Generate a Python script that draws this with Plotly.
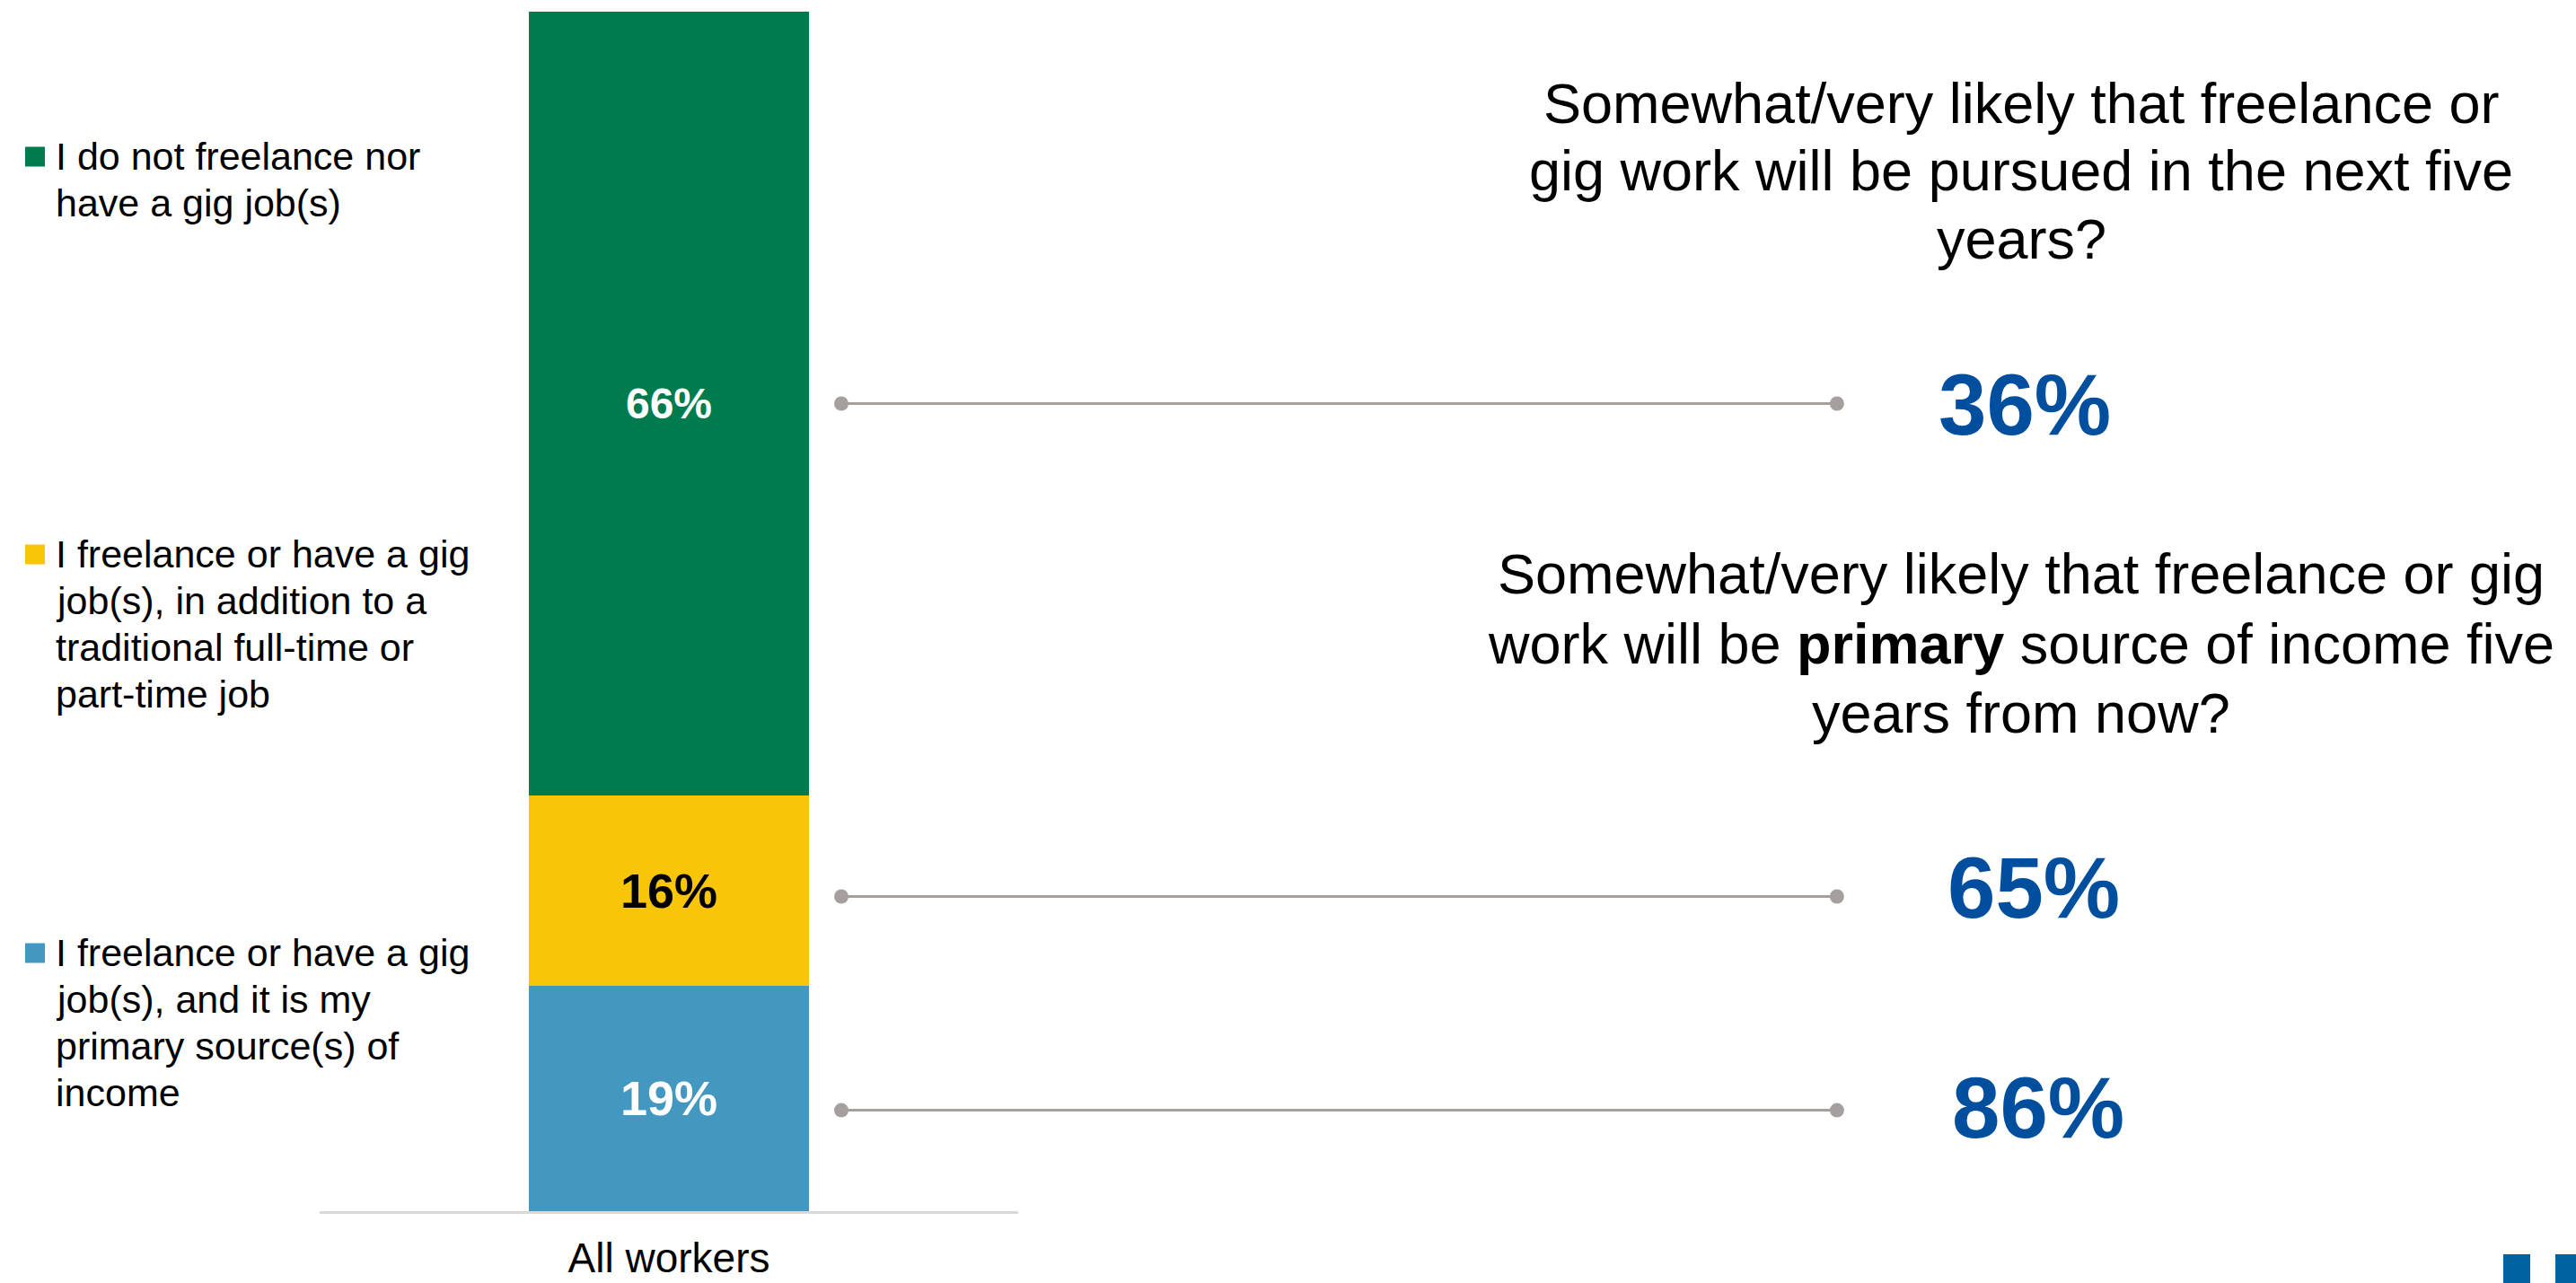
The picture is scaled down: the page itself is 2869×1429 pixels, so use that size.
import plotly.graph_objects as go

W, H = 2869, 1429

# ---- data -------------------------------------------------------------
category = ["All workers"]

# stacked from the bottom up
segment_names = [
    "I freelance or have a gig job(s), and it is my primary source(s) of income",
    "I freelance or have a gig job(s), in addition to a traditional full-time or part-time job",
    "I do not freelance nor have a gig job(s)",
]
segment_values = [19, 16, 66]

# legend text, top to bottom, split as wrapped on the slide
legend_lines = [
    ["I do not freelance nor", "have a gig job(s)"],
    ["I freelance or have a gig", "job(s), in addition to a", "traditional full-time or", "part-time job"],
    ["I freelance or have a gig", "job(s), and it is my", "primary source(s) of", "income"],
]

# level on the bar scale where each callout connector meets the bar
connector_levels = [68, 26.5, 8.5]
# share likely to pursue / rely on freelance work (green, yellow, blue groups)
outlook_values = [36, 65, 86]

question_pursue = [
    "Somewhat/very likely that freelance or",
    "gig work will be pursued in the next five",
    "years?",
]
question_primary = [
    "Somewhat/very likely that freelance or gig",
    "work will be <b>primary</b> source of income five",
    "years from now?",
]

# ---- styling ------------------------------------------------------------
FONT = "Liberation Sans, Arial, sans-serif"
segment_colors = ["#4398c2", "#f8c508", "#007b4e"]
label_colors = ["#ffffff", "#000000", "#ffffff"]
label_sizes = [54, 54, 48]
legend_colors = ["#007b4e", "#f8c508", "#4398c2"]
GREY = "#a5a09d"
NUM_BLUE = "#004f9f"


def px(p):
    return p / W


def py(p):
    return 1 - p / H


fig = go.Figure()

for name, val, col, tcol, tsize in zip(segment_names, segment_values,
                                        segment_colors, label_colors, label_sizes):
    fig.add_trace(go.Bar(
        x=category, y=[val], name=name,
        marker=dict(color=col, line=dict(width=0)),
        text=[f"{val}%"], textposition="inside", insidetextanchor="middle",
        textfont=dict(family=FONT, size=tsize, color=tcol, weight="bold"),
        showlegend=False, hoverinfo="skip",
        xaxis="x", yaxis="y",
    ))

# connectors from the bar to the callout numbers
for lvl in connector_levels:
    fig.add_trace(go.Scatter(
        x=[0.3266, 0.7131], y=[lvl, lvl], mode="lines+markers",
        line=dict(color=GREY, width=3),
        marker=dict(color=GREY, size=16),
        showlegend=False, hoverinfo="skip",
        xaxis="x2", yaxis="y",
    ))

annotations = []
shapes = []

# legend blocks
legend_first_baselines = [189, 632, 1076]
LEG_SIZE = 43
LEG_STEP = 52
for lines, base, col in zip(legend_lines, legend_first_baselines, legend_colors):
    c = base - 14.5
    shapes.append(dict(type="rect", xref="paper", yref="paper",
                       x0=px(28), x1=px(50), y0=py(c + 11), y1=py(c - 11),
                       fillcolor=col, line=dict(width=0)))
    for i, txt in enumerate(lines):
        b = base + i * LEG_STEP
        annotations.append(dict(
            text=txt, x=px(60), y=py(b - 0.3465 * LEG_SIZE),
            xref="paper", yref="paper", xanchor="left", yanchor="middle",
            showarrow=False, font=dict(family=FONT, size=LEG_SIZE, color="#000000"),
        ))

# questions on the right
Q_SIZE = 63
for lines, baselines in ((question_pursue, [137, 212, 288]),
                         (question_primary, [661, 739, 816])):
    for txt, b in zip(lines, baselines):
        annotations.append(dict(
            text=txt, x=px(2251), y=py(b - 0.3465 * Q_SIZE),
            xref="paper", yref="paper", xanchor="center", yanchor="middle",
            showarrow=False, font=dict(family=FONT, size=Q_SIZE, color="#000000"),
        ))

# large callout numbers
for val, cx, cy in zip(outlook_values, [2255, 2265, 2270], [450, 988, 1233]):
    annotations.append(dict(
        text=f"<b>{val}%</b>", x=px(cx), y=py(cy),
        xref="paper", yref="paper", xanchor="center", yanchor="middle",
        showarrow=False, font=dict(family=FONT, size=96, color=NUM_BLUE),
    ))

# corner brand marks
for x0, x1 in ((2788, 2818), (2846, 2880)):
    shapes.append(dict(type="rect", xref="paper", yref="paper",
                       x0=px(x0), x1=px(x1), y0=py(1432), y1=py(1397),
                       fillcolor="#0062a1", line=dict(width=0)))

fig.update_layout(
    width=W, height=H,
    margin=dict(l=0, r=0, t=0, b=0, pad=0),
    paper_bgcolor="#ffffff", plot_bgcolor="rgba(0,0,0,0)",
    barmode="stack", bargap=0.598,
    font=dict(family=FONT, color="#000000"),
    xaxis=dict(domain=[px(356), px(1134)], range=[-0.5, 0.5], anchor="y",
               showline=True, linecolor="#d9d9d9", linewidth=3,
               showgrid=False, zeroline=False, ticks="",
               tickfont=dict(family=FONT, size=46, color="#000000"),
               ticklabelstandoff=10, automargin=False, fixedrange=True),
    xaxis2=dict(domain=[0, 1], range=[0, 1], anchor="y", visible=False,
                automargin=False, fixedrange=True),
    yaxis=dict(domain=[py(1349), py(13)], range=[0, 101], anchor="x",
               visible=False, showgrid=False, zeroline=False,
               automargin=False, fixedrange=True),
    annotations=annotations,
    shapes=shapes,
)

fig.write_html("out.html")
